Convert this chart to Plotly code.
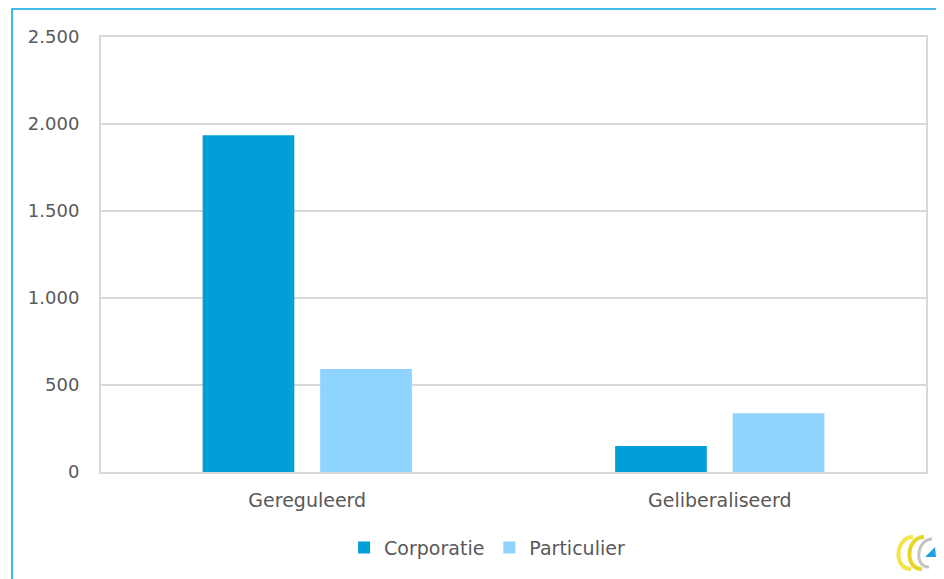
import plotly.graph_objects as go

categories = ["Gereguleerd", "Geliberaliseerd"]
corporatie = [1935, 150]
particulier = [592, 338]
tick_vals = [0, 500, 1000, 1500, 2000, 2500]

font_family = "DejaVu Sans"
text_color = "#595959"

W, H = 937, 572
ML, MR, MT, MB = 93, 19, 29, 108
PW, PH = W - ML - MR, H - MT - MB
OFF = 7  # page offset of the figure inside the window


def px(x):
    return (x - OFF - ML) / PW


def py(y):
    return (MT + PH - (y - OFF)) / PH


fig = go.Figure()
fig.add_trace(go.Bar(name="Corporatie", x=categories, y=corporatie,
                     marker=dict(color="#009FD9", line=dict(width=0))))
fig.add_trace(go.Bar(name="Particulier", x=categories, y=particulier,
                     marker=dict(color="#8ED4FE", line=dict(width=0))))

fig.update_layout(
    width=W, height=H,
    margin=dict(l=ML, r=MR, t=MT, b=MB),
    paper_bgcolor="white", plot_bgcolor="white",
    barmode="group", bargap=0.43, bargroupgap=0.22,
    separators=",.",
    font=dict(family=font_family, size=19, color=text_color),
    showlegend=True,
    legend=dict(orientation="h", x=0.468, xanchor="center", y=-0.13, yanchor="top",
                font=dict(size=19, color=text_color), itemwidth=30,
                traceorder="normal"),
    xaxis=dict(showgrid=False, showline=True, linecolor="#D9D9D9", linewidth=2,
               mirror=True, ticks="", ticklabelstandoff=10),
    yaxis=dict(range=[0, 2500], tickvals=tick_vals, tickformat=",d",
               showgrid=True, gridcolor="#D9D9D9", gridwidth=2,
               showline=True, linecolor="#D9D9D9", linewidth=2, mirror=True,
               zeroline=False, ticks="", ticklabelstandoff=16,
               tickfont=dict(size=18)),
)

# outer light-blue frame
fig.add_shape(type="rect", xref="paper", yref="paper",
              x0=px(11), x1=px(W + 40), y0=py(H + 40), y1=py(8),
              line=dict(color="#00A6E6", width=1.5), fillcolor="rgba(0,0,0,0)",
              layer="above")


# logo approximation (bottom right)
def curve(pts, color, w):
    (x0, y0), (x1, y1), (x2, y2), (x3, y3) = pts
    path = "M {} {} C {} {}, {} {}, {} {}".format(px(x0), py(y0), px(x1), py(y1),
                                               px(x2), py(y2), px(x3), py(y3))
    fig.add_shape(type="path", xref="paper", yref="paper", path=path,
                  line=dict(color=color, width=w), layer="above")


curve([(912, 536), (894, 536), (892, 568), (910, 568)], "#F2E44A", 4)
curve([(923, 536), (905, 536), (903, 568), (921, 568)], "#E6D62A", 4)
curve([(931, 538), (916, 538), (912, 566), (928, 566)], "#C4C4C4", 3)
fig.add_shape(type="path", xref="paper", yref="paper",
              path="M {} {} L {} {} L {} {} Z".format(px(924), py(556), px(935), py(556),
                                                      px(934), py(546)),
              fillcolor="#1FA3E0", line=dict(width=0), layer="above")

fig.write_html("out.html")
